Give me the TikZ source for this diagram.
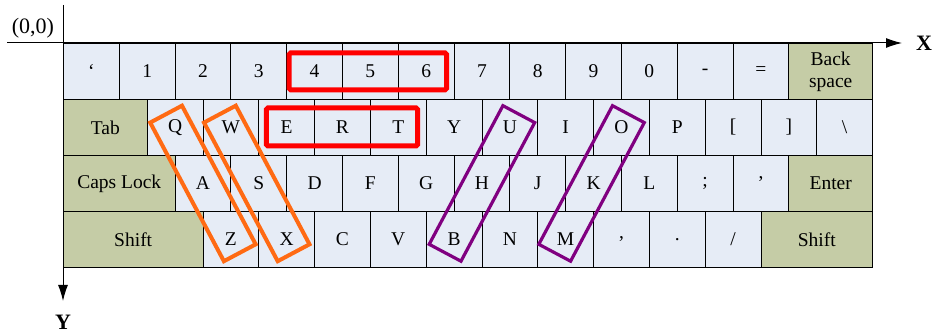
\documentclass[tikz,border=0pt]{standalone}
\usepackage{fontspec}
\setmainfont{Liberation Serif}
\usetikzlibrary{arrows.meta}
\definecolor{keyfill}{HTML}{E6ECF6}
\definecolor{modfill}{HTML}{C5CCA6}
\definecolor{hlorange}{HTML}{FF6A13}
\definecolor{hlpurple}{HTML}{800080}
\definecolor{hlred}{HTML}{FF0000}
\tikzset{
  keybox/.style={draw=black, line width=0.9pt, fill=keyfill, anchor=north west,
    minimum height=56pt, inner sep=0pt, align=center,
    font=\fontsize{19.5}{22}\selectfont},
  modkey/.style={keybox, fill=modfill},
  redbox/.style={draw=hlred, line width=5pt, rounded corners=1.5pt},
  slantbox/.style={draw=#1, minimum width=157pt, minimum height=36pt, inner sep=0pt},
  axisline/.style={line width=1pt, -{Latex[length=16pt,width=10pt]}},
  axislabel/.style={font=\fontsize{22}{24}\selectfont\bfseries, inner sep=0pt},
}
\begin{document}
\begin{tikzpicture}[x=1pt,y=-1pt]
\useasboundingbox (0,0) rectangle (935,336);
\def\u{55.8}
% row 1
\foreach \lab [count=\i from 0] in {\symbol{96},1,2,3,4,5,6,7,8,9,0,-,=}
  \node[keybox, minimum width=\u pt] (r1-\i) at ({63+\i*\u},43) {\lab};
\node[modkey, minimum width=83.7pt] (bksp) at (788.4,43) {Back\\space};
% row 2
\node[modkey, minimum width=83.7pt] (tab) at (63,99) {Tab};
\foreach \lab [count=\i] in {Q,W,E,R,T,Y,U,I,O,P,{[},{]},\textbackslash}
  \node[keybox, minimum width=\u pt] (r2-\i) at ({146.7+(\i-1)*\u},99) {\lab};
% row 3
\node[modkey, minimum width=111.6pt] (caps) at (63,155) {Caps Lock};
\foreach \lab [count=\i] in {A,S,D,F,G,H,J,K,L,;,\symbol{39}}
  \node[keybox, minimum width=\u pt] (r3-\i) at ({174.6+(\i-1)*\u},155) {\lab};
\node[modkey, minimum width=83.7pt] (enter) at (788.4,155) {Enter};
% row 4
\node[modkey, minimum width=139.5pt] (lshift) at (63,211) {Shift};
\foreach \lab [count=\i] in {Z,X,C,V,B,N,M,{,},.,/}
  \node[keybox, minimum width=\u pt] (r4-\i) at ({202.5+(\i-1)*\u},211) {\lab};
\node[modkey, minimum width=111.6pt] (rshift) at (760.5,211) {Shift};
% axes
\coordinate (xs) at (7,43);
\coordinate (xe) at (902,43);
\coordinate (ys) at (63,5);
\coordinate (ye) at (63,301);
\draw[axisline] (xs) -- (xe);
\draw[axisline] (ys) -- (ye);
\node[axislabel] (xl) at (924,43) {X};
\node[axislabel] (yl) at (63,322) {Y};
\node[font=\fontsize{22}{24}\selectfont, inner sep=0pt] (origin) at (33,28) {(0,0)};
% highlights
\draw[redbox] ([shift={(3,10)}]r1-4.north west) rectangle ([shift={(-8,-10)}]r1-6.south east);
\draw[redbox] ([shift={(8,9)}]r2-3.north west) rectangle ([shift={(-9,-10)}]r2-5.south east);
\node[slantbox=hlorange, line width=4pt, rotate=-62] (o1) at (r3-1) {};
\node[slantbox=hlorange, line width=4pt, rotate=-62] (o2) at ([xshift=-2pt]r3-2) {};
\node[slantbox=hlpurple, line width=3.2pt, rotate=62] (p1) at (r3-6) {};
\node[slantbox=hlpurple, line width=3.2pt, rotate=62] (p2) at ([xshift=-2pt]r3-8) {};
\end{tikzpicture}
\end{document}
